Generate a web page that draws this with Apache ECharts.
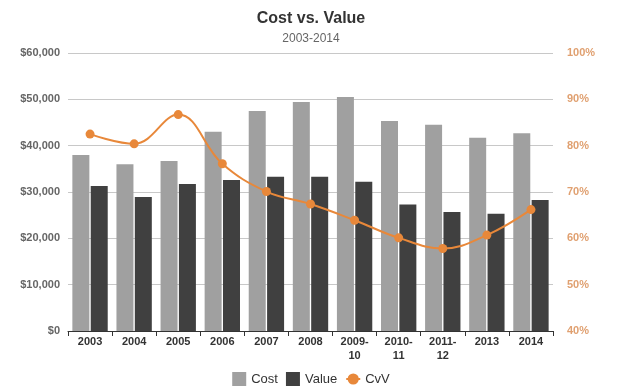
<!DOCTYPE html>
<html><head><meta charset="utf-8">
<script src="https://cdn.jsdelivr.net/npm/echarts@6/dist/echarts.min.js"></script>
<style>html,body{margin:0;padding:0;background:#fff}#c{width:622px;height:391px}</style>
</head><body><div id="c"></div>
<script>
const categories = ['2003','2004','2005','2006','2007','2008','2009-\n10','2010-\n11','2011-\n12','2013','2014'];
const cost = [38000,36000,36700,43000,47500,49400,50500,45300,44500,41700,42700];
const value = [31300,28900,31700,32600,33300,33300,32200,27300,25700,25300,28300];
const cvv = [82.5,80.4,86.7,76.1,70.1,67.4,63.9,60.1,57.8,60.7,66.2];

const chart = echarts.init(document.getElementById('c'));
chart.setOption({
  animation:false,
  title:{text:'Cost vs. Value',subtext:'2003-2014',left:'center',top:6,itemGap:6,
    textStyle:{fontFamily:'Arial, Liberation Sans',fontSize:16,fontWeight:'bold',color:'#333'},
    subtextStyle:{fontFamily:'Arial, Liberation Sans',fontSize:12,color:'#666'}},
  legend:{bottom:0,left:'center',itemWidth:14,itemHeight:14,itemGap:8,
    textStyle:{fontFamily:'Arial, Liberation Sans',fontSize:13,color:'#333'},
    data:[{name:'Cost',icon:'rect'},{name:'Value',icon:'rect'},{name:'CvV'}]},
  grid:{left:68,right:69,top:53,bottom:60,containLabel:false},
  xAxis:{type:'category',data:categories,
    axisLine:{lineStyle:{color:'#333'}},
    axisTick:{show:true,length:5,lineStyle:{color:'#333'}},
    axisLabel:{fontFamily:'Arial, Liberation Sans',fontSize:11,fontWeight:'bold',color:'#333',margin:4,lineHeight:14}},
  yAxis:[
    {type:'value',min:0,max:60000,interval:10000,
     axisLine:{show:false},axisTick:{show:false},
     splitLine:{lineStyle:{color:'#c8c8c8'}},
     axisLabel:{fontFamily:'Arial, Liberation Sans',fontSize:11,fontWeight:'bold',color:'#666',margin:8,
       formatter:v=>'$'+v.toLocaleString('en-US')}},
    {type:'value',min:40,max:100,interval:10,
     axisLine:{show:false},axisTick:{show:false},splitLine:{show:false},
     axisLabel:{fontFamily:'Arial, Liberation Sans',fontSize:11,fontWeight:'bold',color:'#e0a070',margin:14,
       formatter:'{value}%'}}
  ],
  series:[
    {name:'Cost',type:'bar',data:cost,barWidth:17,barGap:'8%',itemStyle:{color:'#a0a0a0'}},
    {name:'Value',type:'bar',data:value,barWidth:17,itemStyle:{color:'#404040'}},
    {name:'CvV',type:'line',yAxisIndex:1,data:cvv,smooth:0.4,symbol:'circle',symbolSize:9,
     lineStyle:{color:'#e8883a',width:2},itemStyle:{color:'#e8883a'}}
  ]
});
</script></body></html>
